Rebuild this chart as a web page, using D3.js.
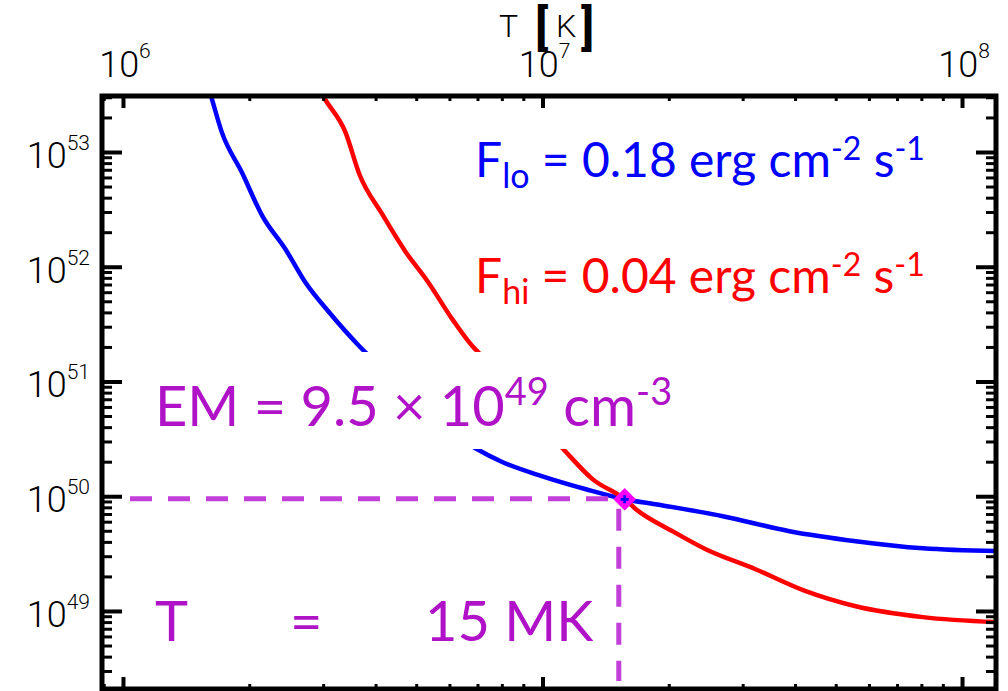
<!DOCTYPE html>
<html>
<head>
<meta charset="utf-8">
<script src="https://cdn.jsdelivr.net/npm/d3@7"></script>
<style>
  body { margin: 0; background: #fff; }
  svg { display: block; }
</style>
</head>
<body>
<div id="chart"></div>
<script>
// emission measure curves (T in K, EM in cm^-3)
const loTemp = [1.545e6, 1.63e6, 1.72e6, 1.92e6, 2.15e6, 2.44e6, 2.72e6, 3.10e6, 3.66e6, 3.78e6,
                6.92e6, 8.04e6, 1.00e7, 1.27e7, 1.57e7, 1.86e7, 2.69e7, 3.88e7, 5.58e7, 8.07e7, 1.224e8];
const loEM   = [5.58e53, 2.88e53, 1.49e53, 6.66e52, 2.76e52, 1.42e52, 7.33e51, 4.01e51, 2.03e51, 1.80e51,
                2.62e50, 1.98e50, 1.49e50, 1.15e50, 9.42e49, 8.51e49, 6.70e49, 4.96e49, 4.06e49, 3.52e49, 3.32e49];

const hiTemp = [2.75e6, 3.03e6, 3.39e6, 3.66e6, 4.15e6, 4.71e6, 5.32e6, 6.10e6, 6.81e6, 7.03e6,
                1.116e7, 1.316e7, 1.57e7, 1.67e7, 2.04e7, 2.45e7, 3.22e7, 4.24e7, 5.58e7, 8.07e7, 1.224e8];
const hiEM   = [5.26e53, 2.88e53, 1.49e53, 6.40e52, 2.87e52, 1.36e52, 7.48e51, 3.48e51, 2.03e51, 1.80e51,
                2.62e50, 1.41e50, 9.42e49, 7.71e49, 4.96e49, 3.45e49, 2.31e49, 1.49e49, 1.10e49, 8.84e48, 7.98e48];

const xMajor = [1e6, 1e7, 1e8];
const yMajor = [1e49, 1e50, 1e51, 1e52, 1e53];

const guideT = 1.52e7, guideEM = 9.5e49;   // dashed guides
const crossT = 1.57e7, crossEM = 9.4e49;   // marker where the curves meet

const loLabel = { main: "F", sub: "lo", value: " = 0.18 erg cm", e1: "-2", mid: " s", e2: "-1" };
const hiLabel = { main: "F", sub: "hi", value: " = 0.04 erg cm", e1: "-2", mid: " s", e2: "-1" };
const tempLabel = ["T", "=", "15 MK"];

const width = 1008, height = 691;
const box = { left: 102, right: 996, top: 96, bottom: 689 };

const svg = d3.select("#chart").append("svg")
    .attr("width", width)
    .attr("height", height);

const x = d3.scaleLog().domain([10 ** 5.95, 10 ** 8.081]).range([box.left, box.right]);
const y = d3.scaleLog().domain([10 ** 48.32, 10 ** 53.488]).range([box.bottom, box.top]);

svg.append("clipPath").attr("id", "plotClip")
    .append("rect")
    .attr("x", box.left).attr("y", box.top)
    .attr("width", box.right - box.left).attr("height", box.bottom - box.top);

// curves
const line = d3.line().curve(d3.curveMonotoneX).x(d => x(d[0])).y(d => y(d[1]));
const curves = svg.append("g").attr("clip-path", "url(#plotClip)");
curves.append("path")
    .datum(d3.zip(loTemp, loEM))
    .attr("d", line).attr("fill", "none")
    .attr("stroke", "#0000ff").attr("stroke-width", 4.5);
curves.append("path")
    .datum(d3.zip(hiTemp, hiEM))
    .attr("d", line).attr("fill", "none")
    .attr("stroke", "#ff0000").attr("stroke-width", 4.5);

// dashed guides
const guideColor = "#c23fd9";
svg.append("line")
    .attr("x1", box.left + 28).attr("x2", x(guideT))
    .attr("y1", y(guideEM)).attr("y2", y(guideEM))
    .attr("stroke", guideColor).attr("stroke-width", 5)
    .attr("stroke-dasharray", "22,16");
svg.append("line")
    .attr("x1", x(guideT)).attr("x2", x(guideT))
    .attr("y1", y(guideEM) + 10).attr("y2", box.bottom - 8)
    .attr("stroke", guideColor).attr("stroke-width", 5)
    .attr("stroke-dasharray", "22,16");

// crossing marker
svg.append("path")
    .attr("d", d3.symbol(d3.symbolSquare, 210)())
    .attr("transform", `translate(${x(crossT)},${y(crossEM)}) rotate(45)`)
    .attr("fill", "#ff00ff").attr("stroke", "#ff00ff").attr("stroke-width", 1.5);
svg.append("path")
    .attr("d", d3.symbol(d3.symbolCross, 36)())
    .attr("transform", `translate(${x(crossT)},${y(crossEM)})`)
    .attr("fill", "#0000ff");

// axes (IDL style, ticks pointing inward)
const xTicks = x.ticks(), yTicks = y.ticks();
const isMajor = v => Math.abs(Math.log10(v) - Math.round(Math.log10(v))) < 1e-6;

function styleAxis(g, majorLen, minorLen, sign, horiz) {
    g.select(".domain").remove();
    g.selectAll(".tick line")
        .attr("stroke", "#000")
        .attr("stroke-width", d => isMajor(d) ? 4 : 3)
        .attr(horiz ? "y2" : "x2", d => sign * (isMajor(d) ? majorLen : minorLen));
    g.selectAll(".tick text").remove();
}

svg.append("g").attr("transform", `translate(0,${box.top})`)
    .call(d3.axisTop(x).tickValues(xTicks))
    .call(g => styleAxis(g, 12, 5, 1, true));
svg.append("g").attr("transform", `translate(0,${box.bottom})`)
    .call(d3.axisBottom(x).tickValues(xTicks))
    .call(g => styleAxis(g, 12, 5, -1, true));
svg.append("g").attr("transform", `translate(${box.left},0)`)
    .call(d3.axisLeft(y).tickValues(yTicks))
    .call(g => styleAxis(g, 20, 10, 1, false));
svg.append("g").attr("transform", `translate(${box.right},0)`)
    .call(d3.axisRight(y).tickValues(yTicks))
    .call(g => styleAxis(g, 20, 10, -1, false));

svg.append("rect")
    .attr("x", box.left).attr("y", box.top)
    .attr("width", box.right - box.left).attr("height", box.bottom - box.top)
    .attr("fill", "none").attr("stroke", "#000").attr("stroke-width", 5);

// tick labels
const tickFont = "Roboto, 'DejaVu Sans', sans-serif";
svg.append("g").selectAll("text")
    .data(yMajor)
    .join("text")
    .attr("x", 90).attr("y", d => y(d) + 16)
    .attr("text-anchor", "end")
    .attr("font-family", tickFont).attr("font-weight", 300)
    .attr("font-size", 36)
    .each(function (d) {
        const t = d3.select(this);
        t.append("tspan").text("10");
        t.append("tspan").attr("dy", -18).attr("font-size", 21).text(Math.round(Math.log10(d)));
    });

svg.append("g").selectAll("text")
    .data(xMajor)
    .join("text")
    .attr("x", d => x(d) + 2).attr("y", 77)
    .attr("text-anchor", "middle")
    .attr("font-family", tickFont).attr("font-weight", 300)
    .attr("font-size", 36)
    .each(function (d) {
        const t = d3.select(this);
        t.append("tspan").text("10");
        t.append("tspan").attr("dy", -19).attr("font-size", 21).text(Math.round(Math.log10(d)));
    });

// axis title: small T and K with heavy brackets
const titleG = svg.append("g").attr("font-family", tickFont);
titleG.append("text").attr("x", 499).attr("y", 37)
    .attr("font-size", 32).attr("font-weight", 300).text("T");
titleG.append("text").attr("x", 535).attr("y", 44)
    .attr("font-size", 48).attr("font-weight", 700).text("[");
titleG.append("text").attr("x", 556).attr("y", 37)
    .attr("font-size", 32).attr("font-weight", 300).text("K");
titleG.append("text").attr("x", 581).attr("y", 44)
    .attr("font-size", 48).attr("font-weight", 700).text("]");

// annotations
const annFont = "Lato, 'Open Sans', sans-serif";

function fluxLabel(lbl, px, py, color) {
    const t = svg.append("text")
        .attr("x", px).attr("y", py)
        .attr("font-family", annFont).attr("font-size", 48)
        .attr("fill", color);
    t.append("tspan").text(lbl.main);
    t.append("tspan").attr("font-size", 34).attr("dy", 11).text(lbl.sub);
    t.append("tspan").attr("dy", -11).text(lbl.value);
    t.append("tspan").attr("font-size", 32).attr("dy", -17).text(lbl.e1);
    t.append("tspan").attr("dy", 17).text(lbl.mid);
    t.append("tspan").attr("font-size", 32).attr("dy", -17).text(lbl.e2);
    return t;
}
fluxLabel(loLabel, 475, 177, "#0000ff");
fluxLabel(hiLabel, 475, 293, "#ff0000");

// white box behind the EM label hides the curves
svg.append("rect")
    .attr("x", 130).attr("y", 352)
    .attr("width", 570).attr("height", 97)
    .attr("fill", "#fff");

const purple = "#b012c8";
const em = svg.append("text")
    .attr("x", 155).attr("y", 426)
    .attr("font-family", annFont).attr("font-size", 56)
    .attr("fill", purple);
em.append("tspan").text("EM = 9.5 \u00d7 10");
em.append("tspan").attr("font-size", 38).attr("dy", -21).text("49");
em.append("tspan").attr("dy", 21).text(" cm");
em.append("tspan").attr("font-size", 38).attr("dy", -21).text("-3");

// T label: pieces placed as in the figure
const tempX = [155, 290, 425];
svg.append("g").selectAll("text")
    .data(tempLabel)
    .join("text")
    .attr("x", (d, i) => tempX[i]).attr("y", 641)
    .attr("font-family", annFont).attr("font-size", 56)
    .attr("fill", purple)
    .text(d => d);
</script>
</body>
</html>
